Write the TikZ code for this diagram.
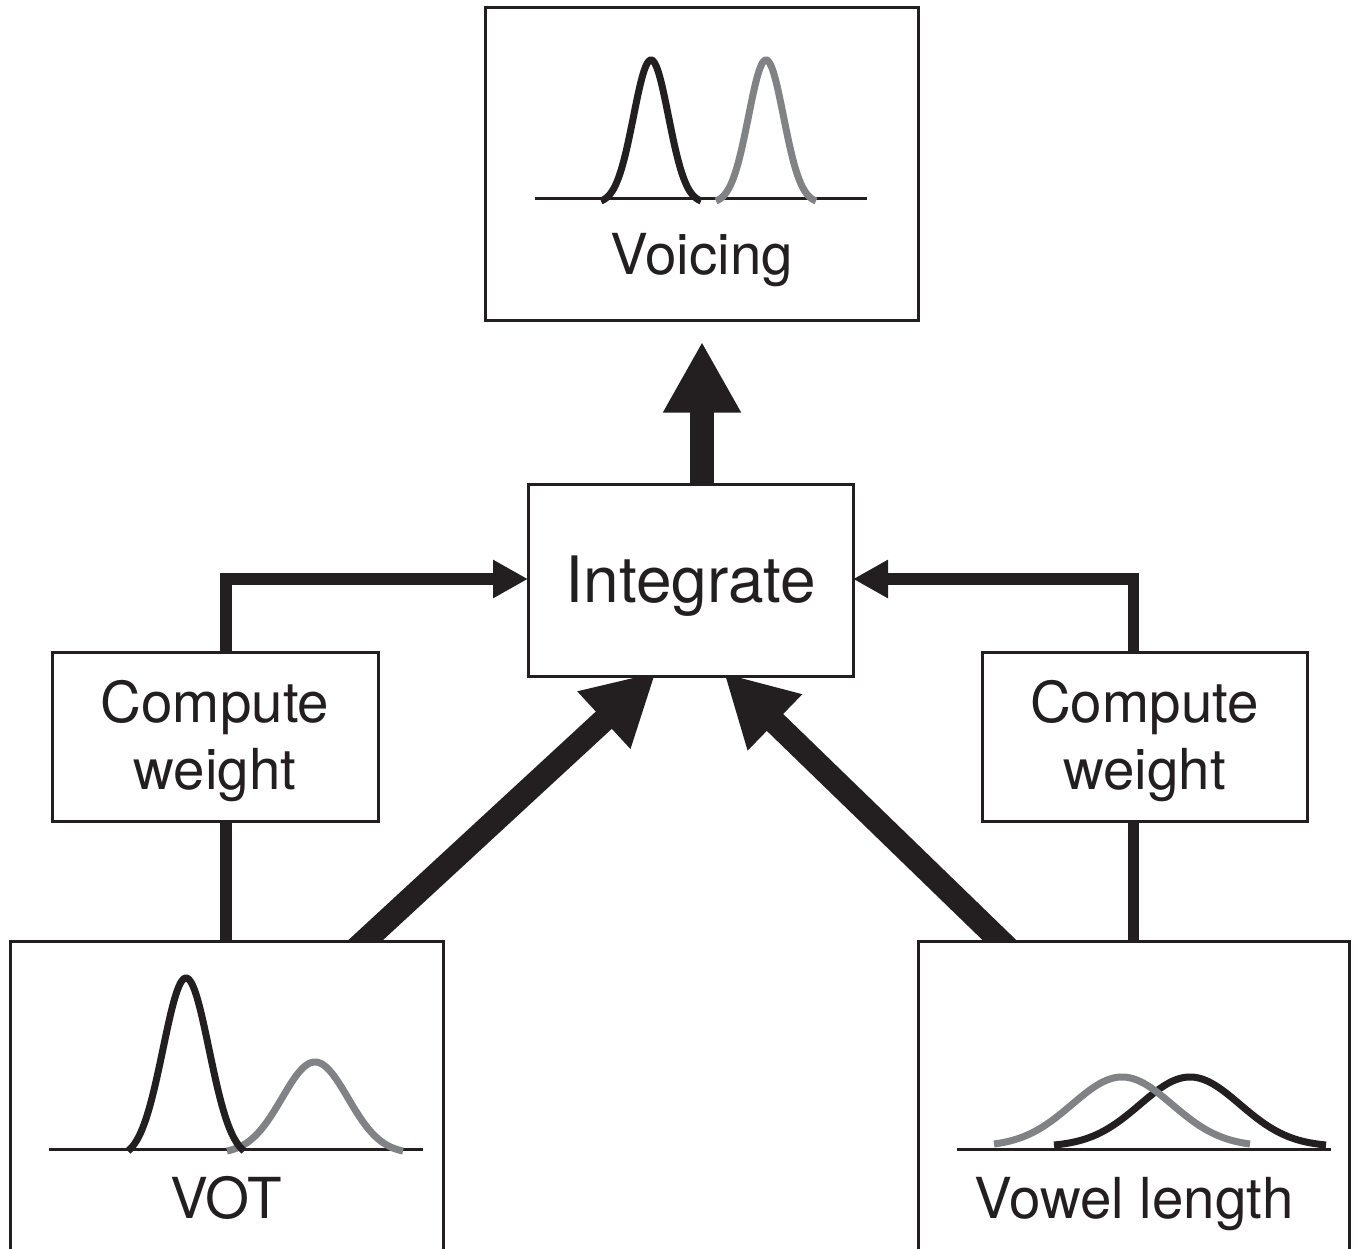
\documentclass[tikz,border=0pt]{standalone}
\usepackage{fontspec}
\setmainfont{TeX Gyre Heros}
\usetikzlibrary{arrows.meta,calc,backgrounds}
\definecolor{ink}{RGB}{35,31,32}
\definecolor{curvegray}{RGB}{128,130,133}
\newcommand{\gausscurve}[7]{%
  \pgfmathsetmacro{\gcG}{exp(-0.5*(#6/#3)^2)}%
  \pgfmathsetmacro{\gcD}{(#4*\gcG+(#7))/(1-\gcG)}%
  \pgfmathsetmacro{\gcLo}{#2-#6}%
  \pgfmathsetmacro{\gcHi}{#2+#6}%
  \draw[curve,#1] plot[domain=\gcLo:\gcHi,samples=90,smooth] (\x,{#5-(#4+(\gcD))*exp(-0.5*((\x-#2)/#3)^2)+(\gcD)});%
}
\begin{document}
\begin{tikzpicture}[x=1pt,y=-1pt,
  box/.style={draw=ink,line width=3pt,fill=white,inner sep=0pt,outer sep=0pt},
  lbl/.style={text=ink,font=\fontsize{56.5}{66}\selectfont,anchor=base,inner sep=0pt},
  thinlink/.style={draw=ink,line width=11.7pt},
  thicklink/.style={draw=ink,line width=23.5pt},
  weightarrow/.style={thinlink,line join=miter,-{Triangle[length=35pt,width=36pt]}},
  mainarrow/.style={thicklink,-{Triangle[length=71pt,width=73pt]}},
  curve/.style={line width=7pt},
  axisline/.style={draw=ink,line width=3pt}]
\useasboundingbox (0,0) rectangle (1357,1249);

% boxes
\node[box,minimum width=433pt,minimum height=312pt] (voicing) at (701.5,164) {};
\node[box,minimum width=325pt,minimum height=192.4pt] (integ) at (690.5,580.5) {};
\node[box,minimum width=326pt,minimum height=169pt] (cwl) at (215,737.2) {};
\node[box,minimum width=325pt,minimum height=169pt] (cwr) at (1144.5,737.2) {};
\node[box,minimum width=433pt,minimum height=330pt] (vot) at (226.5,1106.7) {};
\node[box,minimum width=430.7pt,minimum height=330pt] (vowel) at (1133.65,1106.7) {};

% labels
\node[lbl] (voicingtxt) at (701.7,275) {Voicing};
\node[lbl,font=\fontsize{64}{72}\selectfont] (integtxt) at (691,602) {Integrate};
\node[lbl] (cwltop) at (215,722) {Compute};
\node[lbl] (cwlbot) at (215,789.5) {weight};
\node[lbl] (cwrtop) at (1144.5,722) {Compute};
\node[lbl] (cwrbot) at (1144.5,789.5) {weight};
\node[lbl] (vottxt) at (226,1218) {VOT};
\node[lbl] (voweltxt) at (1134,1218) {Vowel length};

% corner points of the weight connectors
\coordinate (uptip) at (702,341.7);
\coordinate (lcorner) at (226,579);
\coordinate (rcorner) at (1133.5,579);

% connectors (behind the boxes)
\begin{scope}[on background layer]
  \draw[mainarrow] (integ.north -| uptip) -- (uptip);
  \draw[mainarrow] ($(vot.north)+(125.7,10.8)$) -- ($(integ.south)+(-34.5,-4.7)$);
  \draw[mainarrow] ($(vowel.north)+(-121.15,11.1)$) -- ($(integ.south)+(33.5,-3.7)$);
  \draw[thinlink] (vot.north -| lcorner) -- (cwl.south -| lcorner);
  \draw[weightarrow] (cwl.north -| lcorner) -- (lcorner) -- (integ.west |- lcorner);
  \draw[thinlink] (vowel.north -| rcorner) -- (cwr.south -| rcorner);
  \draw[weightarrow] (cwr.north -| rcorner) -- (rcorner) -- (integ.east |- rcorner);
\end{scope}

% distributions: Voicing
\draw[axisline] (535,199) -- (867,199);
\gausscurve{ink}{651}{17.5}{139}{199}{50}{2}
\gausscurve{curvegray}{766}{17.5}{139}{199}{50}{2}

% distributions: VOT
\draw[axisline] (49,1149) -- (423,1149);
\gausscurve{curvegray}{315}{33}{87}{1149}{88}{2}
\gausscurve{ink}{186}{23}{171}{1149}{58}{2}

% distributions: Vowel length
\draw[axisline] (957,1149) -- (1331,1149);
\gausscurve{ink}{1190}{50}{72}{1149}{136}{-4}
\gausscurve{curvegray}{1122}{50}{72}{1149}{128}{-5}
\end{tikzpicture}
\end{document}
